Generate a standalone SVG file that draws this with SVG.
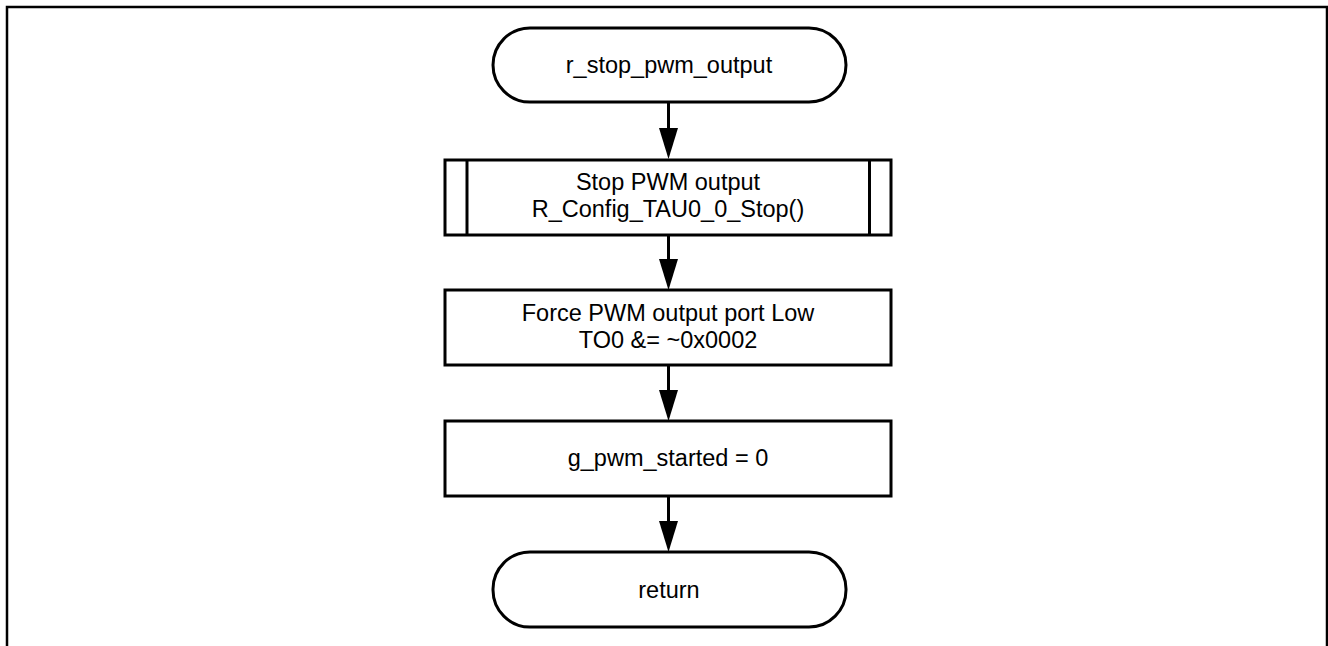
<svg xmlns="http://www.w3.org/2000/svg" width="1328" height="646" viewBox="0 0 1328 646">
  <style>
    .shape { fill: #ffffff; stroke: #000000; stroke-width: 3; }
    .edge { stroke: #000000; stroke-width: 3; fill: none; }
    .head { fill: #000000; stroke: none; }
    .label { font-family: "Liberation Sans", Arial, sans-serif; font-size: 23.5px; fill: #000000; text-anchor: middle; }
  </style>
  <rect x="0" y="0" width="1328" height="646" fill="#ffffff"/>
  <!-- page frame, open at the bottom -->
  <path d="M7,646 V7 H1327 V646" fill="none" stroke="#000000" stroke-width="2.5"/>

  <g id="connectors">
    <line class="edge" x1="668.5" y1="102" x2="668.5" y2="130"/>
    <polygon class="head" points="659,128 678,128 668.5,159"/>
    <line class="edge" x1="668.5" y1="235" x2="668.5" y2="261"/>
    <polygon class="head" points="659,259 678,259 668.5,290"/>
    <line class="edge" x1="668.5" y1="365" x2="668.5" y2="392"/>
    <polygon class="head" points="659,390 678,390 668.5,421"/>
    <line class="edge" x1="668.5" y1="496" x2="668.5" y2="523"/>
    <polygon class="head" points="659,521 678,521 668.5,552"/>
  </g>

  <g id="start">
    <rect class="shape" x="493" y="28" width="353" height="74" rx="37" ry="37"/>
    <text class="label" x="669" y="73">r_stop_pwm_output</text>
  </g>

  <g id="stop-pwm">
    <rect class="shape" x="445" y="160" width="446" height="75"/>
    <line class="edge" x1="467" y1="160" x2="467" y2="235"/>
    <line class="edge" x1="869.5" y1="160" x2="869.5" y2="235"/>
    <text class="label" x="668" y="190">Stop PWM output</text>
    <text class="label" x="668" y="217">R_Config_TAU0_0_Stop()</text>
  </g>

  <g id="force-low">
    <rect class="shape" x="445" y="290" width="446" height="75"/>
    <text class="label" x="668" y="321">Force PWM output port Low</text>
    <text class="label" x="668" y="348">TO0 &amp;= ~0x0002</text>
  </g>

  <g id="clear-flag">
    <rect class="shape" x="445" y="421" width="446" height="75"/>
    <text class="label" x="668" y="466">g_pwm_started = 0</text>
  </g>

  <g id="return">
    <rect class="shape" x="493" y="552" width="353" height="75" rx="37" ry="37"/>
    <text class="label" x="669" y="598">return</text>
  </g>
</svg>
